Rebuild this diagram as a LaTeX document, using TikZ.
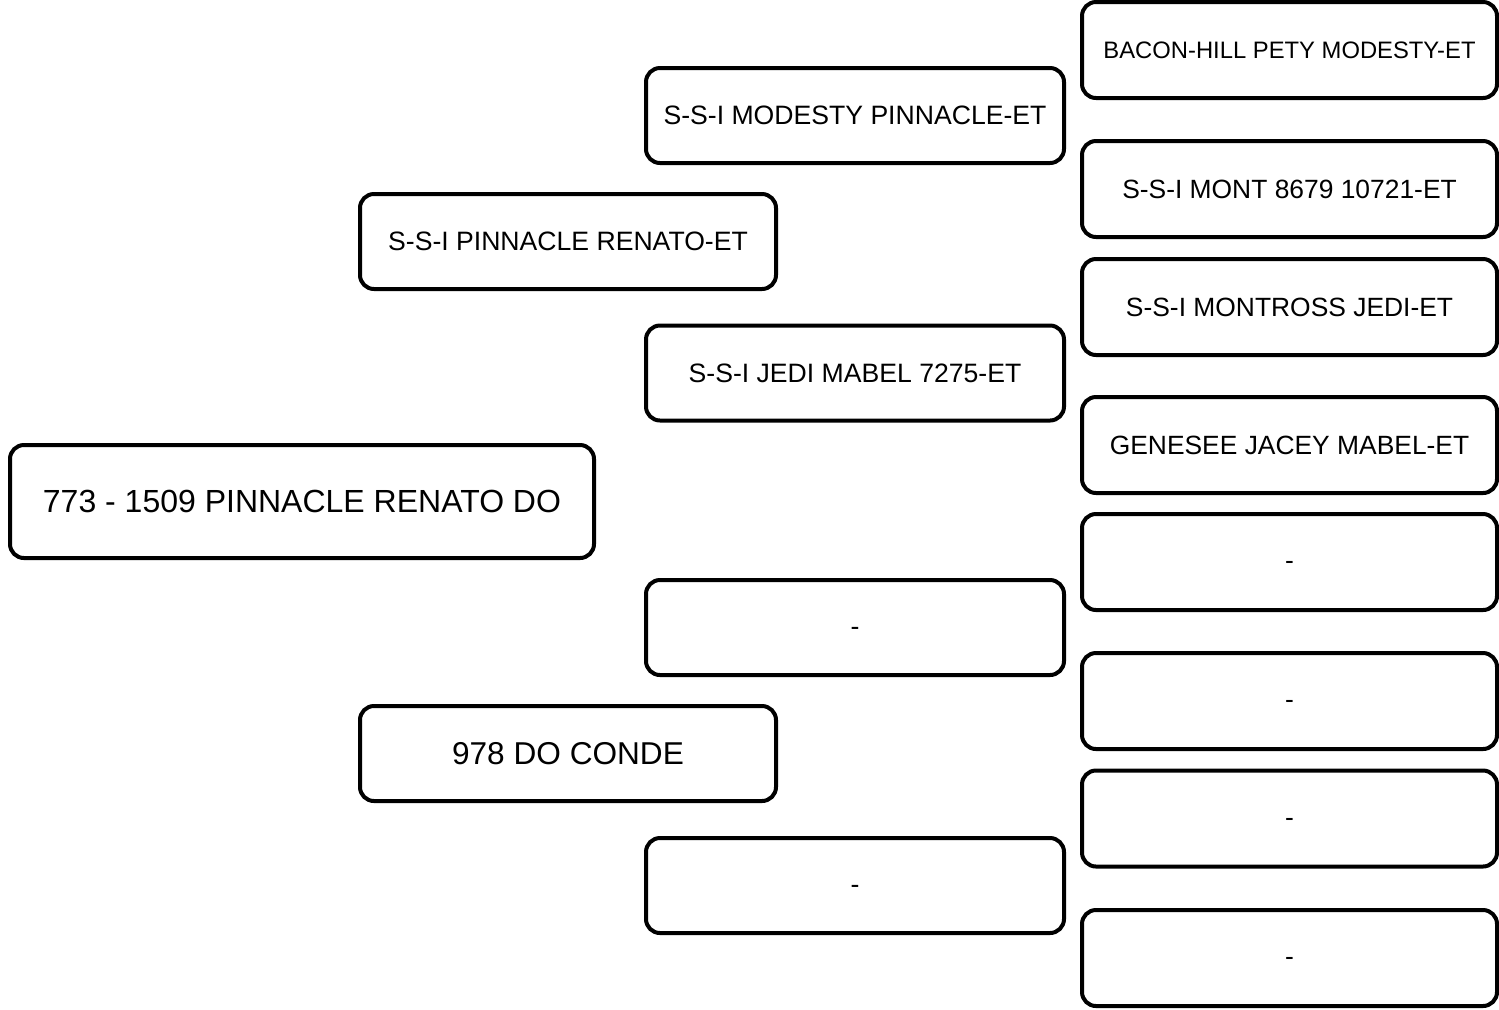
\documentclass[tikz,border=0pt]{standalone}
\usepackage{fontspec}
\setmainfont{Liberation Sans}
\begin{document}
\begin{tikzpicture}[x=0.5pt,y=-0.5pt,
  box/.style={draw=black, line width=2pt, rounded corners=7pt, fill=white, inner sep=0pt, align=center},
  g0/.style={box, minimum width=292pt, minimum height=56.5pt, font=\fontsize{16}{19}\selectfont},
  g1/.style={box, minimum width=208pt, minimum height=47.5pt, font=\fontsize{13.3}{16}\selectfont},
  g1b/.style={g1, font=\fontsize{15.8}{19}\selectfont},
  g2/.style={box, minimum width=209pt, minimum height=47.5pt, font=\fontsize{13.3}{16}\selectfont},
  g3/.style={box, minimum width=207.5pt, minimum height=48pt, font=\fontsize{13.2}{16}\selectfont},
  g3s/.style={g3, font=\fontsize{11.9}{14}\selectfont},
  dashbox/.style={text height=7.6pt, text depth=0pt}]
\useasboundingbox (0,0) rectangle (1499,1009);
% generation 0
\node[g0] (p0) at (302,501.5) {773 - 1509 PINNACLE RENATO DO};
% generation 1
\node[g1] (s1) at (568,241.5) {S-S-I PINNACLE RENATO-ET};
\node[g1b] (d1) at (568,753.5) {978 DO CONDE};
% generation 2
\node[g2] (ss2) at (855,115.5) {S-S-I MODESTY PINNACLE-ET};
\node[g2] (sd2) at (855,373) {S-S-I JEDI MABEL 7275-ET};
\node[g2, dashbox] (ds2) at (855,627.5) {-};
\node[g2, dashbox] (dd2) at (855,885.5) {-};
% generation 3
\node[g3s] (a3) at (1289.5,50) {BACON-HILL PETY MODESTY-ET};
\node[g3] (b3) at (1289.5,189) {S-S-I MONT 8679 10721-ET};
\node[g3] (c3) at (1289.5,307) {S-S-I MONTROSS JEDI-ET};
\node[g3] (d3) at (1289.5,445) {GENESEE JACEY MABEL-ET};
\node[g3, dashbox] (e3) at (1289.5,562) {-};
\node[g3, dashbox] (f3) at (1289.5,701) {-};
\node[g3, dashbox] (h3) at (1289.5,818.5) {-};
\node[g3, dashbox] (i3) at (1289.5,958) {-};
\end{tikzpicture}
\end{document}
